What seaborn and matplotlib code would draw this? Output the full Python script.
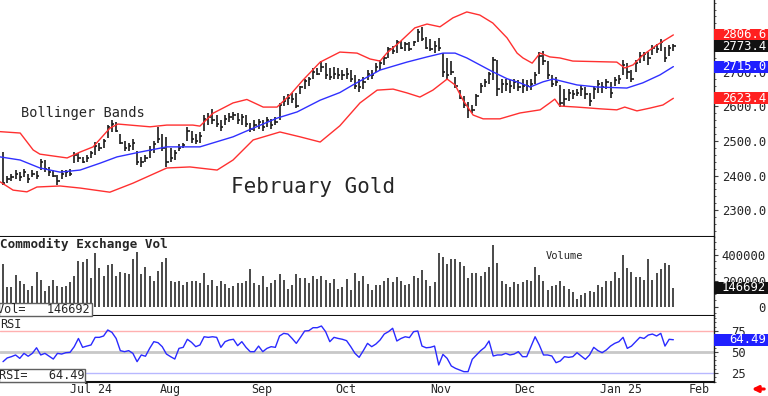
import numpy as np
import matplotlib
matplotlib.use('Agg')
import matplotlib.pyplot as plt
import matplotlib.ticker as mticker
from matplotlib.patches import Rectangle
import seaborn as sns

sns.set_style('white')
plt.rcParams['font.family'] = ['DejaVu Sans Mono', 'DejaVu Sans']

# daily bars, Feb gold (high / low / close), one entry per session
highs = [2468, 2400, 2405, 2415, 2410, 2420, 2405, 2415, 2412, 2448,
         2445, 2425, 2415, 2402, 2415, 2415, 2418, 2468, 2465, 2455,
         2460, 2470, 2497, 2495, 2505, 2545, 2560, 2555, 2520, 2500,
         2495, 2505, 2470, 2455, 2460, 2485, 2500, 2540, 2520, 2511,
         2480, 2475, 2490, 2494, 2540, 2530, 2520, 2525, 2575, 2580,
         2592, 2575, 2560, 2575, 2580, 2584, 2580, 2578, 2575, 2552,
         2560, 2565, 2560, 2569, 2565, 2570, 2610, 2630, 2635, 2639,
         2640, 2660, 2680, 2685, 2711, 2712, 2730, 2725, 2710, 2713,
         2711, 2705, 2710, 2705, 2690, 2680, 2685, 2705, 2705, 2725,
         2734, 2745, 2772, 2775, 2792, 2790, 2785, 2785, 2790, 2824,
         2830, 2800, 2795, 2790, 2798, 2754, 2740, 2730, 2685, 2648,
         2630, 2613, 2605, 2635, 2668, 2680, 2700, 2743, 2735, 2680,
         2680, 2675, 2680, 2675, 2680, 2675, 2680, 2700, 2757, 2760,
         2730, 2690, 2685, 2662, 2650, 2650, 2648, 2650, 2660, 2655,
         2640, 2660, 2675, 2670, 2680, 2670, 2685, 2690, 2734, 2725,
         2705, 2734, 2757, 2757, 2757, 2777, 2780, 2795, 2772, 2777,
         2780]
lows = [2373, 2378, 2385, 2390, 2385, 2395, 2380, 2395, 2390, 2415,
        2410, 2400, 2395, 2373, 2390, 2395, 2400, 2435, 2440, 2435,
        2440, 2450, 2460, 2470, 2480, 2510, 2525, 2525, 2490, 2470,
        2470, 2475, 2430, 2425, 2440, 2450, 2465, 2495, 2470, 2425,
        2440, 2445, 2470, 2480, 2500, 2495, 2490, 2495, 2530, 2545,
        2550, 2540, 2530, 2545, 2555, 2560, 2550, 2545, 2540, 2526,
        2530, 2535, 2530, 2540, 2535, 2545, 2560, 2600, 2605, 2610,
        2595, 2635, 2650, 2660, 2680, 2690, 2700, 2680, 2675, 2680,
        2680, 2676, 2680, 2670, 2650, 2642, 2650, 2676, 2680, 2700,
        2705, 2720, 2740, 2750, 2754, 2765, 2760, 2760, 2775, 2785,
        2790, 2765, 2760, 2755, 2760, 2685, 2676, 2690, 2653, 2620,
        2595, 2566, 2580, 2600, 2640, 2655, 2665, 2676, 2630, 2640,
        2645, 2640, 2650, 2645, 2640, 2645, 2648, 2665, 2695, 2720,
        2680, 2656, 2660, 2598, 2600, 2615, 2620, 2630, 2630, 2620,
        2600, 2620, 2640, 2640, 2650, 2624, 2660, 2665, 2690, 2680,
        2670, 2700, 2725, 2730, 2720, 2748, 2755, 2760, 2728, 2745,
        2760]
closes = [2380, 2390, 2395, 2405, 2395, 2410, 2390, 2405, 2400, 2440,
          2420, 2410, 2400, 2385, 2405, 2410, 2405, 2460, 2450, 2440,
          2450, 2465, 2485, 2480, 2500, 2540, 2550, 2530, 2495, 2480,
          2485, 2495, 2440, 2440, 2450, 2475, 2490, 2505, 2480, 2440,
          2450, 2465, 2480, 2488, 2530, 2505, 2500, 2515, 2565, 2570,
          2560, 2550, 2540, 2565, 2570, 2575, 2560, 2570, 2550, 2535,
          2545, 2555, 2540, 2560, 2545, 2555, 2605, 2615, 2625, 2620,
          2600, 2655, 2672, 2680, 2700, 2695, 2715, 2690, 2685, 2695,
          2690, 2690, 2695, 2680, 2660, 2655, 2670, 2695, 2690, 2715,
          2725, 2740, 2765, 2760, 2785, 2770, 2780, 2765, 2785, 2815,
          2795, 2770, 2765, 2775, 2770, 2700, 2690, 2700, 2660, 2625,
          2605, 2590, 2590, 2630, 2660, 2670, 2695, 2735, 2650, 2665,
          2665, 2660, 2670, 2655, 2660, 2660, 2665, 2690, 2745, 2730,
          2690, 2665, 2670, 2610, 2620, 2640, 2635, 2640, 2650, 2635,
          2615, 2650, 2665, 2655, 2670, 2640, 2675, 2680, 2720, 2700,
          2680, 2725, 2745, 2750, 2740, 2770, 2765, 2785, 2740, 2770,
          2773.4]

# bollinger bands (bar position, price)
upper_pos = [-0.7, 4.1, 7.2, 8.8, 15.3, 18.4, 21.5, 25.5, 27.4, 35.1, 39.1,
             45.3, 47.0, 50.1, 54.9, 58.2, 62.1, 65.4, 68.5, 71.6, 75.7, 80.4,
             84.5, 87.6, 90.0, 91.6, 94.7, 98.3, 101.2, 104.3, 107.4, 110.7,
             113.8, 116.9, 120.3, 122.7, 124.1, 126.3, 128.2, 130.5, 132.9,
             136.0, 146.5, 148.4, 150.4, 152.7, 156.0, 160.0]
upper_val = [2527, 2523, 2474, 2462, 2451, 2468, 2483, 2537, 2549, 2541, 2546,
             2546, 2543, 2580, 2610, 2620, 2598, 2598, 2633, 2676, 2728, 2757,
             2754, 2737, 2731, 2754, 2786, 2827, 2838, 2830, 2856, 2873,
             2864, 2841, 2798, 2754, 2740, 2725, 2754, 2743, 2740,
             2731, 2728, 2711, 2720, 2748, 2777, 2806.6]
mid_pos = [-0.7, 4.1, 8.8, 13.6, 18.4, 23.2, 27.2, 32.7, 39.1, 47.0, 54.9,
           59.7, 65.4, 70.2, 75.7, 80.4, 83.5, 90.0, 96.4, 101.2, 105.0,
           107.9, 110.7, 113.8, 116.9, 120.3, 123.4, 125.8, 128.9, 131.3,
           137.0, 141.8, 148.9, 152.7, 156.8, 160.0]
mid_val = [2454, 2445, 2422, 2410, 2416, 2436, 2454, 2468, 2483, 2483, 2512,
           2537, 2566, 2584, 2618, 2640, 2662, 2705, 2728, 2743, 2754,
           2754, 2740, 2720, 2700, 2680, 2668, 2656, 2671, 2679,
           2662, 2656, 2653, 2668, 2691, 2715.0]
lower_pos = [-0.7, 2.4, 5.7, 8.1, 13.6, 18.4, 25.5, 31.0, 39.1, 44.6, 51.1,
             54.9, 59.7, 66.1, 70.9, 75.7, 80.4, 85.2, 89.3, 93.1, 96.4,
             99.5, 102.6, 106.0, 107.9, 109.8, 112.2, 114.6, 118.6, 123.4,
             128.2, 130.5, 131.7, 132.9, 137.0, 142.5, 146.5, 148.4, 151.3,
             154.4, 157.5, 160.0]
lower_val = [2382, 2358, 2353, 2367, 2370, 2364, 2352, 2378, 2422, 2425, 2416,
             2445, 2503, 2526, 2512, 2497, 2544, 2610, 2647, 2650, 2639,
             2627, 2647, 2679, 2662, 2618, 2575, 2564, 2564, 2581,
             2590, 2610, 2621, 2601, 2598, 2593, 2590, 2598, 2587,
             2595, 2604, 2623.4]

# Commodity Exchange volume, thousands of contracts
volume_k = [327, 152, 152, 248, 196, 178, 131, 162, 267, 204,
            118, 157, 204, 157, 152, 157, 188, 235, 353, 345,
            366, 222, 413, 301, 240, 319, 332, 240, 267, 261,
            256, 366, 423, 256, 308, 235, 196, 274, 345, 379,
            201, 191, 196, 170, 188, 196, 201, 183, 261, 170,
            204, 162, 196, 178, 144, 162, 183, 183, 196, 293,
            183, 170, 240, 152, 183, 209, 256, 204, 136, 170,
            256, 222, 222, 183, 240, 214, 235, 209, 183, 214,
            136, 152, 214, 131, 261, 196, 240, 178, 131, 170,
            170, 201,
            222, 188, 230, 201, 170, 178, 235, 222, 282, 209,
            162, 188, 418, 387, 327, 366, 366, 345, 314, 222,
            261, 261, 240, 267, 308, 476, 340, 196, 178, 152,
            191, 175, 191, 204, 201, 308, 248, 196, 131, 162,
            170, 196, 162, 136, 110, 58, 89, 105, 125, 112,
            170, 152, 196, 196, 267, 222, 397, 301, 267, 230,
            227, 204, 366, 209, 261, 293, 340, 319, 146.692]

rsi = [38.6, 43, 44.5, 46.5, 42.5, 48.4, 45, 48.4, 55, 46.5,
       48.4, 45, 41.7, 48.4, 47.6, 49.2, 49.6, 56.3, 66, 55.5,
       57, 58.3, 67.3, 67.3, 68.9, 76, 73.2, 66, 51.6, 50.4,
       51.6, 48.4, 38.6, 46.5, 45, 54.3, 62.2, 61, 56.3, 47.6,
       44.5, 41.7, 54.3, 55.5, 65, 61.4, 56.3, 58.3, 68, 67.3,
       68, 67.3, 55.5, 62.2, 64.2, 65, 57.5, 62.2, 55.5, 50.4,
       50.4, 57, 50.4, 54.3, 56.3, 55.5, 68.9, 72, 71.2, 66,
       60.2, 67.3, 74.8, 75.2, 78.7, 78.7, 80.7, 74, 62.2, 67.3,
       66, 65, 63.4, 56.3, 48.4, 43.7, 51.6, 60.2, 56.3, 59.4,
       64.2, 71.2,
       74, 78, 63, 66, 68, 67, 74, 74.8, 57, 55,
       55.5, 57, 34.7, 47.2, 42.5, 33.5, 30.7, 28.8, 26.8, 26.8,
       41.4, 46.5, 51.6, 55.5, 63, 45.3, 46.5, 46.5, 48.4, 46.5,
       47.6, 50.4, 44.5, 44.5, 56.3, 68, 58.3, 46.5, 46.5, 45.3,
       37.4, 39.4, 44.5, 43.7, 44.5, 49.2, 45.3, 41.4, 46.5, 55.5,
       51.6, 49.2, 52.4, 57, 60.2, 62.2, 67.3, 54.3, 57, 62.2,
       67.3, 66, 70, 71.2, 68.9, 72, 57, 65, 64.49]

month_labels = ['Jul 24', 'Aug', 'Sep', 'Oct', 'Nov', 'Dec', 'Jan 25', 'Feb']
month_ticks = [15.3, 36.8, 58.7, 78.8, 101.4, 121.5, 142.0, 163.0]

idx = np.arange(len(closes))
volume = np.array(volume_k) * 1000

W, H = 768, 396
fig = plt.figure(figsize=(W / 100, H / 100), dpi=100)


def panel(l, t, r, b):
    return fig.add_axes([l / W, 1 - b / H, (r - l) / W, (b - t) / H])


ax_p = panel(0, 0, 714, 237)
ax_v = panel(0, 237, 714, 316)
ax_r = panel(0, 316, 714, 382)

# price bars + bands
ax_p.vlines(idx, lows, highs, color='#1a1a1a', lw=1.2)
ax_p.hlines(closes, idx, idx + 0.55, color='#1a1a1a', lw=1.2)
sns.lineplot(x=upper_pos, y=upper_val, ax=ax_p, color='#ff3030', lw=1)
sns.lineplot(x=lower_pos, y=lower_val, ax=ax_p, color='#ff3030', lw=1)
sns.lineplot(x=mid_pos, y=mid_val, ax=ax_p, color='#3030ff', lw=1)

# volume
ax_v.vlines(idx, 0, volume, color='#3a3a3a', lw=1.3)

# rsi
ax_r.axhline(75, color='#ffb0b0', lw=1)
ax_r.axhline(50, color='#c8c8c8', lw=2)
ax_r.axhline(25, color='#b8b8ff', lw=1)
sns.lineplot(x=idx, y=rsi, ax=ax_r, color='#2a2aff', lw=1)

for ax in (ax_p, ax_v, ax_r):
    ax.set_xlim(-0.72, 169.7)
    ax.set_xlabel('')
    ax.set_ylabel('')
    ax.spines['left'].set_visible(False)
    ax.spines['top'].set_visible(False)
    ax.spines['right'].set_color('#202020')
    ax.spines['right'].set_linewidth(1)
    ax.spines['bottom'].set_color('#101010')
    ax.spines['bottom'].set_linewidth(1.5)
    ax.yaxis.tick_right()
    ax.tick_params(axis='y', which='major', length=3, width=0.8,
                   color='#404040', labelsize=8.8)
    ax.tick_params(axis='y', which='minor', length=1.5, width=0.6,
                   color='#404040')

ax_p.set_xticks([])
ax_v.set_xticks([])

ax_p.set_ylim(2222.5, 2907.5)
ax_p.set_yticks([2300, 2400, 2500, 2600, 2700, 2800])
ax_p.yaxis.set_major_formatter(mticker.FormatStrFormatter('%.1f'))
ax_p.yaxis.set_minor_locator(mticker.MultipleLocator(20))
ax_p.tick_params(axis='y', pad=34.4)
plt.setp(ax_p.get_yticklabels(), ha='right')

ax_v.set_ylim(-72000, 539000)
ax_v.set_yticks([0, 200000, 400000])
ax_v.set_yticklabels(['0', '200000', '400000'])
ax_v.yaxis.set_minor_locator(mticker.MultipleLocator(50000))
ax_v.tick_params(axis='y', pad=34.4)
plt.setp(ax_v.get_yticklabels(), ha='right')

ax_r.set_ylim(14.6, 92.5)
ax_r.set_yticks([25, 50, 75])
ax_r.yaxis.set_minor_locator(mticker.MultipleLocator(5))
ax_r.tick_params(axis='y', pad=9)
ax_r.set_xticks(month_ticks)
ax_r.set_xticklabels([])
ax_r.tick_params(axis='x', length=10, width=1, color='#404040')
lab_tr = ax_r.get_xaxis_transform()
for pos, lab in zip(month_ticks, month_labels):
    ax_r.text(pos + 0.6, -0.11, lab, transform=lab_tr, ha='left',
              va='center', fontsize=8.4, clip_on=False)


def tag(ax, value, text, color):
    y = ax.transData.transform((0, value))[1]
    fig.patches.append(Rectangle((714 / W, (y - 6) / H), 54 / W, 12 / H,
                                 transform=fig.transFigure, facecolor=color,
                                 edgecolor='none', zorder=5))
    fig.text(766 / W, y / H, text, ha='right', va='center', color='white',
             fontsize=8.8, zorder=6)


tag(ax_p, upper_val[-1], '%.1f' % upper_val[-1], '#ff2020')
tag(ax_p, closes[-1], '%.1f' % closes[-1], '#111111')
tag(ax_p, mid_val[-1], '%.1f' % mid_val[-1], '#2020ff')
tag(ax_p, lower_val[-1], '%.1f' % lower_val[-1], '#ff2020')
tag(ax_v, volume[-1], '%d' % round(volume[-1]), '#111111')
tag(ax_r, rsi[-1], '%.2f' % rsi[-1], '#2020ff')

# readout boxes on the left
fig.patches.append(Rectangle((-1 / W, 1 - 316 / H), 93 / W, 13 / H,
                             transform=fig.transFigure, facecolor='white',
                             edgecolor='#606060', lw=1, zorder=5))
fig.text(-3 / W, 1 - 309.5 / H, 'Vol=   %d' % round(volume[-1]),
         ha='left', va='center', fontsize=8.6, zorder=6)
fig.patches.append(Rectangle((-1 / W, 1 - 382 / H), 86 / W, 13 / H,
                             transform=fig.transFigure, facecolor='white',
                             edgecolor='#606060', lw=1, zorder=5))
fig.text(-1 / W, 1 - 375.5 / H, 'RSI=   %.2f' % rsi[-1],
         ha='left', va='center', fontsize=8.6, zorder=6)

fig.text(0, 1 - 244 / H, 'Commodity Exchange Vol', ha='left', va='center',
         fontsize=9.1, fontweight='bold')
fig.text(0, 1 - 324 / H, 'RSI', ha='left', va='center', fontsize=8.6)
fig.text(546 / W, 1 - 256 / H, 'Volume', ha='left', va='center', fontsize=7.5)
fig.text(21 / W, 1 - 113 / H, 'Bollinger Bands', ha='left', va='center',
         fontsize=9.8)
fig.text(231 / W, 1 - 187 / H, 'February Gold', ha='left', va='center',
         fontsize=15)

ax_r.annotate('', xy=(749, 7), xytext=(767, 7), xycoords='figure pixels',
              textcoords='figure pixels',
              arrowprops=dict(arrowstyle='-|>', color='#ff0000', lw=2.2,
                              mutation_scale=9))

fig.savefig('out.png', dpi=100)
